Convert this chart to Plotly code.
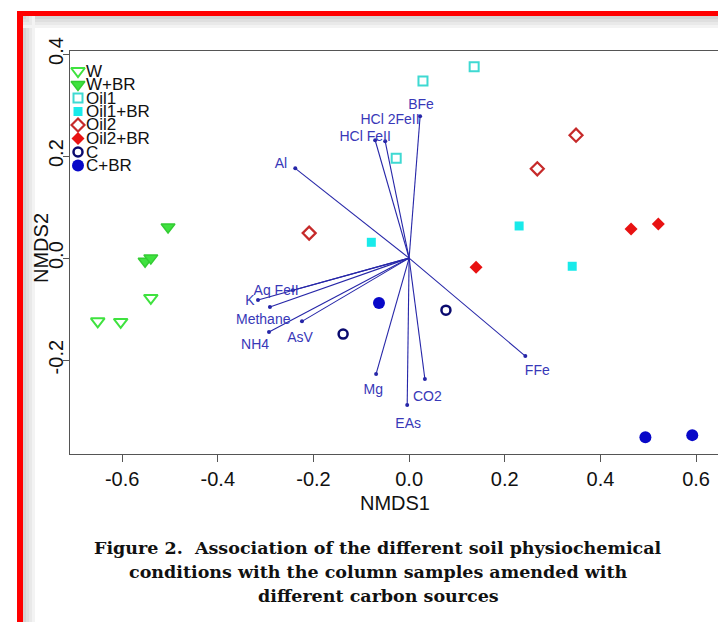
import plotly.graph_objects as go

# ---------------- data ----------------
groups = ["W", "W+BR", "Oil1", "Oil1+BR", "Oil2", "Oil2+BR", "C", "C+BR"]

w_x = [-0.651, -0.603, -0.540]
w_y = [-0.124, -0.125, -0.078]
wbr_x = [-0.504, -0.552, -0.540]
wbr_y = [0.061, -0.006, 0.000]
oil1_x = [0.136, 0.029, -0.027]
oil1_y = [0.375, 0.347, 0.196]
oil1br_x = [-0.079, 0.230, 0.341]
oil1br_y = [0.031, 0.063, -0.016]
oil2_x = [-0.209, 0.268, 0.349]
oil2_y = [0.049, 0.175, 0.241]
oil2br_x = [0.140, 0.464, 0.521]
oil2br_y = [-0.018, 0.057, 0.067]
c_x = [-0.138, 0.077]
c_y = [-0.149, -0.102]
cbr_x = [-0.063, 0.494, 0.592]
cbr_y = [-0.088, -0.351, -0.347]

vec_names = ["Al", "HCl FeII", "HCl 2FeII", "BFe", "Aq FeII", "K", "Methane",
             "NH4", "AsV", "Mg", "EAs", "CO2", "FFe"]
vec_x = [-0.238, -0.071, -0.050, 0.023, -0.243, -0.316, -0.291,
         -0.293, -0.224, -0.069, -0.004, 0.033, 0.243]
vec_y = [0.176, 0.231, 0.229, 0.278, -0.063, -0.082, -0.096,
         -0.145, -0.124, -0.227, -0.288, -0.237, -0.192]
lab_x = [-0.268, -0.092, -0.040, 0.025, -0.278, -0.333, -0.305,
         -0.322, -0.228, -0.075, -0.002, 0.038, 0.268]
lab_y = [0.184, 0.237, 0.269, 0.300, -0.065, -0.086, -0.122,
         -0.171, -0.157, -0.259, -0.327, -0.273, -0.222]

x_ticks = [-0.6, -0.4, -0.2, 0.0, 0.2, 0.4, 0.6]
y_ticks = [-0.2, 0.0, 0.2, 0.4]

caption_lines = ["Figure 2.  Association of the different soil physiochemical",
                 "conditions with the column samples amended with",
                 "different carbon sources"]

# ---------------- styles ----------------
W, H = 726, 622
ML, MR, MT, MB = 62, 14, 43, 176
PW, PH = W - ML - MR, H - MT - MB

def px2paper_x(px):
    return (px - ML) / PW

def px2paper_y(py):
    return (H - MB - py) / PH

FONT = "Liberation Sans, Arial, Helvetica, sans-serif"
GREEN = "#3FE23F"
CYAN_O = "#3ED9D2"
CYAN_F = "#19EAEA"
RED_O = "#C62A2A"
RED_F = "#E81212"
NAVY = "#0A0A6E"
BLUE = "#0808C8"
VEC = "#2626A8"
VEC_T = "#3838B8"

styles = {
    "W": dict(symbol="triangle-down-open", size=12, color=GREEN, line=dict(width=2, color=GREEN)),
    "W+BR": dict(symbol="triangle-down", size=12, color=GREEN, line=dict(width=1.5, color="#33CC33")),
    "Oil1": dict(symbol="square-open", size=9, color=CYAN_O, line=dict(width=2, color=CYAN_O)),
    "Oil1+BR": dict(symbol="square", size=9, color=CYAN_F, line=dict(width=0)),
    "Oil2": dict(symbol="diamond-open", size=10, color=RED_O, line=dict(width=2.2, color=RED_O)),
    "Oil2+BR": dict(symbol="diamond", size=10, color=RED_F, line=dict(width=0)),
    "C": dict(symbol="circle-open", size=9, color=NAVY, line=dict(width=2.5, color=NAVY)),
    "C+BR": dict(symbol="circle", size=12, color=BLUE, line=dict(width=0)),
}
data = {
    "W": (w_x, w_y), "W+BR": (wbr_x, wbr_y), "Oil1": (oil1_x, oil1_y),
    "Oil1+BR": (oil1br_x, oil1br_y), "Oil2": (oil2_x, oil2_y),
    "Oil2+BR": (oil2br_x, oil2br_y), "C": (c_x, c_y), "C+BR": (cbr_x, cbr_y),
}

fig = go.Figure()

# vectors
lx, ly = [], []
for vx, vy in zip(vec_x, vec_y):
    lx += [0, vx, None]
    ly += [0, vy, None]
fig.add_trace(go.Scatter(x=lx, y=ly, mode="lines", line=dict(color=VEC, width=1.1),
                         showlegend=False, hoverinfo="skip"))
fig.add_trace(go.Scatter(x=vec_x, y=vec_y, mode="markers",
                         marker=dict(color=VEC, size=4), showlegend=False, hoverinfo="skip"))
fig.add_trace(go.Scatter(x=lab_x, y=lab_y, mode="text", text=vec_names,
                         textfont=dict(family=FONT, size=14, color=VEC_T),
                         showlegend=False, hoverinfo="skip"))

# samples
for g in groups:
    xs, ys = data[g]
    fig.add_trace(go.Scatter(x=xs, y=ys, mode="markers", name=g,
                             marker=styles[g], showlegend=False))

# manual legend (overlay axes spanning the plot area in [0,1])
leg_rows = [63, 76.5, 90, 103.5, 117, 130.5, 144, 157.5]
leg_sym_x = px2paper_x(70)
leg_txt_x = px2paper_x(76)
for g, py in zip(groups, leg_rows):
    st = dict(styles[g])
    fig.add_trace(go.Scatter(x=[leg_sym_x], y=[px2paper_y(py)], mode="markers",
                             marker=st, xaxis="x2", yaxis="y2", showlegend=False,
                             hoverinfo="skip"))

annotations = []
for g, py in zip(groups, leg_rows):
    annotations.append(dict(x=leg_txt_x, y=px2paper_y(py), xref="paper", yref="paper",
                            text=g, showarrow=False, xanchor="left", yanchor="middle",
                            font=dict(family=FONT, size=17, color="#111111")))

# y-axis title
annotations.append(dict(x=px2paper_x(33), y=px2paper_y(240), xref="paper", yref="paper",
                        text="NMDS2", textangle=-90, showarrow=False,
                        xanchor="center", yanchor="middle",
                        font=dict(family=FONT, size=20, color="#111111")))

cap_y = [540, 564, 588]
for t, py in zip(caption_lines, cap_y):
    annotations.append(dict(x=px2paper_x(370), y=px2paper_y(py), xref="paper", yref="paper",
                            text="<b>" + t + "</b>", showarrow=False,
                            xanchor="center", yanchor="middle",
                            font=dict(family="DejaVu Serif, serif",
                                      size=17.5, color="#111111")))

# frame decorations: red border and soft gray shadow
shapes = []
def rect(x0, y0, x1, y1, color):
    shapes.append(dict(type="rect", xref="paper", yref="paper", layer="below",
                       x0=px2paper_x(x0), x1=px2paper_x(x1),
                       y0=px2paper_y(y0), y1=px2paper_y(y1),
                       fillcolor=color, line=dict(width=0)))

for i, c in enumerate(["#d4d4d4", "#dfdfdf", "#e9e9e9", "#f3f3f3"]):
    rect(14, 8 + 3 * i, 720, 11 + 3 * i, c)
    rect(15 + 3 * i, 8, 18 + 3 * i, 622, c)
rect(9, 3, 725, 8, "#FF0000")
rect(9, 3, 15, 622, "#FF0000")
rect(720, 3, 725, 622, "#FF0000")

fig.update_layout(
    width=W, height=H,
    margin=dict(l=ML, r=MR, t=MT, b=MB),
    paper_bgcolor="white", plot_bgcolor="white",
    font=dict(family=FONT, color="#111111"),
    showlegend=False,
    annotations=annotations,
    shapes=shapes,
    xaxis=dict(range=[-0.709, 0.650], tickvals=x_ticks,
               ticktext=[f"{v:.1f}" for v in x_ticks],
               showgrid=False, zeroline=False, showline=True, mirror=True,
               linecolor="#555555", linewidth=1.2, ticks="outside", ticklen=7,
               tickcolor="#555555", tickfont=dict(size=20, family=FONT, color="#111111"),
               title=dict(text="NMDS1", font=dict(size=20, family=FONT, color="#111111"),
                          standoff=6)),
    yaxis=dict(range=[-0.384, 0.406], tickvals=y_ticks,
               ticktext=[f"{v:.1f}" for v in y_ticks], tickangle=-90,
               ticklabelstandoff=-8,
               showgrid=False, zeroline=False, showline=True, mirror=True,
               linecolor="#555555", linewidth=1.2, ticks="outside", ticklen=6,
               tickcolor="#555555", tickfont=dict(size=20, family=FONT, color="#111111")),
    xaxis2=dict(range=[0, 1], overlaying="x", visible=False, fixedrange=True),
    yaxis2=dict(range=[0, 1], overlaying="y", visible=False, fixedrange=True),
)

fig.write_html("out.html")
